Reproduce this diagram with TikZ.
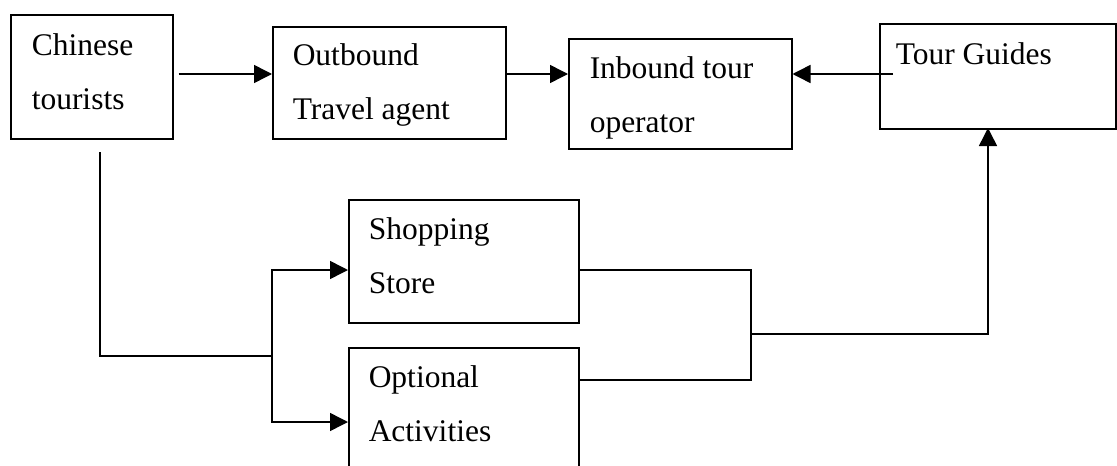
\documentclass[tikz,border=0pt]{standalone}
\usepackage{fontspec}
\setmainfont{Liberation Serif}
\usetikzlibrary{arrows.meta,calc}
% two stacked text lines; the node's baseline is that of the first line
\newcommand\twolines[2]{\vtop{\baselineskip=54.5pt\hbox{#1}\hbox{#2}}}
\begin{document}
\begin{tikzpicture}[x=1pt, y=-1pt, line width=1.5pt,
  box/.style={draw, inner sep=0pt, anchor=north west},
  txt/.style={anchor=base west, inner sep=0pt, font=\fontsize{31.5}{54.5}\selectfont},
  arr/.style={-{Triangle[length=18pt,width=18pt]}}]
\clip (0,0) rectangle (1117,466);

% boxes
\node[box, minimum width=162pt, minimum height=124pt] (tourists) at (10,14) {};
\node[box, minimum width=233pt, minimum height=112pt] (outbound) at (272,26) {};
\node[box, minimum width=223pt, minimum height=110pt] (inbound)  at (568,38) {};
\node[box, minimum width=236pt, minimum height=105pt] (guides)   at (879,23) {};
\node[box, minimum width=230pt, minimum height=123pt] (shopping) at (348,199) {};
\node[box, minimum width=230pt, minimum height=140pt] (optional) at (348,347) {};

% labels
\node[txt] (tourists-t) at ($(tourists.north west)+(21,41)$) {\twolines{Chinese}{tourists}};
\node[txt] (outbound-t) at ($(outbound.north west)+(20,39)$) {\twolines{Outbound}{Travel agent}};
\node[txt] (inbound-t)  at ($(inbound.north west)+(21,40)$)  {\twolines{Inbound tour}{operator}};
\node[txt] (guides-t)   at ($(guides.north west)+(16,41)$)   {Tour Guides};
\node[txt] (shopping-t) at ($(shopping.north west)+(20,40)$) {\twolines{Shopping}{Store}};
\node[txt] (optional-t) at ($(optional.north west)+(20,40)$) {\twolines{Optional}{Activities}};

% routing points
\coordinate (row)   at (0,74);
\coordinate (down)  at (100,152);
\coordinate (split) at (272,356);
\coordinate (shopIn) at (348,270);
\coordinate (optIn)  at (348,422);
\coordinate (shopOut) at (578,270);
\coordinate (optOut)  at (578,380);
\coordinate (merge) at (751,334);
\coordinate (up)    at (988,128);

% top row
\draw[arr] ([xshift=5pt]tourists.east |- row) -- (outbound.west |- row);
\draw[arr] (outbound.east |- row) -- (inbound.west |- row);
\draw[arr] ([xshift=14pt]guides.west |- row) -- (inbound.east |- row);

% tourists to the two lower boxes
\draw (down) |- (split);
\draw[arr] (split) |- (shopIn);
\draw[arr] (split) |- (optIn);

% lower boxes back up to the guides
\draw (shopOut) -| (merge);
\draw (optOut) -| (merge);
\draw[arr] (merge) -| (up);
\end{tikzpicture}
\end{document}
